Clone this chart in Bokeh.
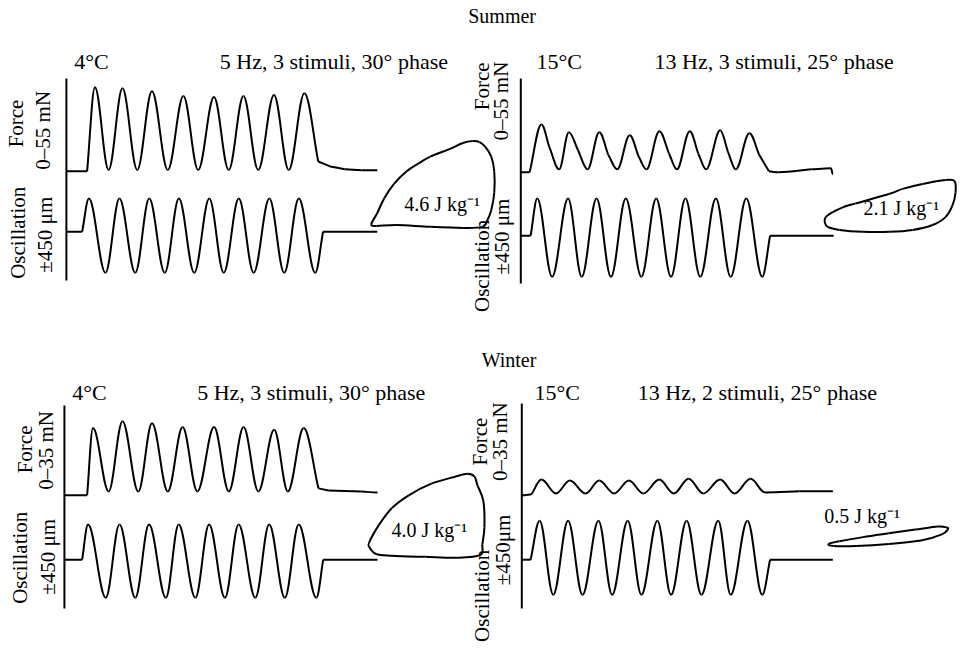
import math
from bokeh.plotting import figure
from bokeh.models import Range1d, ColumnDataSource
from bokeh.core.properties import value
from bokeh.embed import file_html
from bokeh.resources import INLINE

# ---------------- data (time ms, force mN, displacement um) ----------------
# Summer, 4 C, 5 Hz
s4_force_t = [-105, 33, 85, 176, 268, 366, 464, 569, 673, 771, 876, 974, 1072, 1170, 1275, 1373, 1477, 1569, 1647, 1745, 1856, 1961]
s4_force_v = [0, 0, 49.8, 0.8, 49.2, 0.8, 47.5, 0.8, 44.6, 0.8, 44.0, 0.8, 44.6, 0.8, 45.2, 0.8, 46.3, 5.8, 2.9, 1.2, 0.6, 0.6]
s4_osc_t = [-105, 0, 45, 155, 248, 353, 446, 549, 643, 745, 845, 941, 1041, 1140, 1244, 1343, 1440, 1549, 1601, 1961]
s4_osc_v = [0, 0, 403, -497, 403, -497, 403, -497, 403, -497, 403, -497, 403, -497, 403, -497, 403, -497, 0, 0]
s4_loop_d = [-450, -407, -356, -284, -191, -104, -18, 126, 220, 292, 342, 385, 428, 450, 450, 428, 400, 364, 220, -18, -263, -414]
s4_loop_f = [2.2, 8.4, 16.9, 25.3, 32.6, 37.1, 41.0, 45.5, 48.9, 50.0, 49.4, 46.6, 41.0, 32.6, 20.2, 10.1, 4.5, 0.6, 0.0, 0.6, 1.7, 1.1]

# Summer, 15 C, 13 Hz
s15_force_t = [-25, -2.5, 27.7, 47.8, 73, 98, 121, 146, 176, 199, 222, 254, 277, 297, 330, 355, 375, 408, 430, 450, 486, 506, 526, 561, 586, 611, 636, 720, 770, 775]
s15_force_v = [0, 0, 28.1, 14.9, 1.7, 23.5, 13.2, 1.7, 23.5, 10.3, 1.7, 21.8, 9.2, 1.7, 24.1, 10.9, 1.7, 24.1, 10.9, 1.7, 24.6, 12.0, 1.7, 22.9, 10.3, 0.6, 0.0, 1.7, 2.3, -1.1]
s15_osc_t = [-25, 0, 17, 55, 96, 131, 169, 206, 244, 284, 322, 360, 397, 435, 475, 513, 553, 594, 614, 777]
s15_osc_v = [0, 0, 428, -473, 428, -473, 428, -473, 428, -473, 428, -473, 428, -473, 428, -473, 428, -473, 0, 0]
s15_loop_d = [443, 381, 223, 86, -3, -237, -326, -395, -443, -450, -429, -347, -189, -3, 155, 292, 381, 429, 450]
s15_loop_f = [27.0, 27.5, 25.4, 22.8, 20.2, 15.1, 13.0, 10.4, 7.8, 5.2, 2.6, 1.0, 0.0, 0.0, 1.0, 3.6, 7.8, 14.0, 20.8]

# Winter, 4 C, 5 Hz
w4_force_t = [-118, 33, 72, 176, 268, 373, 464, 569, 667, 765, 876, 974, 1072, 1170, 1275, 1366, 1471, 1569, 1634, 1856, 1961]
w4_force_v = [0, 0, 26.2, 1.5, 28.9, 1.5, 28.1, 1.5, 26.6, 1.5, 26.6, 1.5, 26.6, 1.5, 25.5, 1.5, 26.2, 2.7, 1.9, 1.5, 1.1]
w4_osc_t = [-118, 0, 39, 157, 248, 353, 444, 556, 641, 752, 843, 948, 1039, 1150, 1242, 1346, 1438, 1555, 1601, 1961]
w4_osc_v = [0, 0, 432, -468, 432, -468, 432, -468, 432, -468, 432, -468, 432, -468, 432, -468, 432, -468, 0, 0]
w4_loop_d = [-450, -373, -273, -142, 35, 219, 319, 373, 396, 442, 450, 434, 419, 242, -12, -273, -396, -450]
w4_loop_f = [5.4, 11.4, 17.1, 21.5, 25.5, 27.9, 28.9, 27.9, 24.9, 19.5, 10.4, 4.7, 1.0, 0.0, 0.3, 0.7, 1.3, 3.7]

# Winter, 15 C, 13 Hz
w15_force_t = [-23, 2.5, 27.7, 65, 100.6, 141, 176, 214, 252, 289, 330, 367, 405, 443, 486, 523, 564, 601, 689, 775]
w15_force_v = [0, 0.4, 6.0, 0.7, 5.6, 0.7, 5.6, 0.7, 5.6, 0.7, 6.0, 0.7, 6.3, 0.7, 6.0, 0.7, 6.3, 1.1, 1.5, 1.5]
w15_osc_t = [-23, 0, 23, 58, 96, 133, 174, 209, 249, 284, 325, 360, 400, 438, 481, 513, 556, 594, 614, 775]
w15_osc_v = [0, 0, 474, -426, 474, -426, 474, -426, 474, -426, 474, -426, 474, -426, 474, -426, 474, -426, 0, 0]
w15_loop_d = [-450, -413, -242, 4, 257, 406, 450, 443, 376, 205, 4, -190, -368]
w15_loop_f = [0.6, 0.0, 0.0, 0.6, 1.7, 3.4, 4.8, 5.4, 5.7, 4.8, 3.7, 2.6, 1.4]

season_titles = ["Summer", "Winter"]
temp_labels = ["4°C", "15°C", "4°C", "15°C"]
cond_labels = ["5 Hz, 3 stimuli, 30° phase", "13 Hz, 3 stimuli, 25° phase",
               "5 Hz, 3 stimuli, 30° phase", "13 Hz, 2 stimuli, 25° phase"]
force_scales = ["0–55 mN", "0–55 mN", "0–35 mN", "0–35 mN"]
osc_scales = ["±450 μm", "±450 μm", "±450 μm", "±450μm"]
work_labels = ["4.6 J kg⁻¹", "2.1 J kg⁻¹", "4.0 J kg⁻¹", "0.5 J kg⁻¹"]

# ---------------- layout (reference-pixel anchors, scaled onto the canvas) ----------------
W, H = 957, 648          # canvas size
RW, RH = 973, 664        # reference coordinate frame
PANELS = [
    dict(ft=s4_force_t, fv=s4_force_v, ot=s4_osc_t, ov=s4_osc_v, ld=s4_loop_d, lf=s4_loop_f,
         t_map=(0, 83, 1600, 327.8), f_map=(0, 175, 55, 80), o_map=(0, 237, 450, 199),
         lx_map=(-450, 377, 450, 502), ly_map=(0, 233, 50, 144), spine=(67, 80, 287),
         temp=(75, 62), cond=(223, 62), work=(449, 209),
         rot=[(16, 126), (43, 133), (18, 238), (45, 240)]),
    dict(ft=s15_force_t, fv=s15_force_v, ot=s15_osc_t, ov=s15_osc_v, ld=s15_loop_d, lf=s15_loop_f,
         t_map=(0, 539, 615.4, 783), f_map=(0, 176, 55, 80), o_map=(0, 241, 450, 201),
         lx_map=(-450, 838, 450, 971), ly_map=(0, 237, 27.5, 184), spine=(529, 80, 290),
         temp=(545, 62), cond=(665, 62), work=(916, 213),
         rot=[(490, 88), (509, 103), (490, 272), (510, 242)]),
    dict(ft=w4_force_t, fv=w4_force_v, ot=w4_osc_t, ov=w4_osc_v, ld=w4_loop_d, lf=w4_loop_f,
         t_map=(0, 83, 1600, 328), f_map=(0, 507, 35, 415), o_map=(0, 573, 450, 535.5),
         lx_map=(-450, 375, 450, 492), ly_map=(0, 571, 28.9, 485), spine=(65, 415, 623),
         temp=(73, 402), cond=(200, 402), work=(436, 543),
         rot=[(25, 460), (46, 461), (20, 571), (48, 570)]),
    dict(ft=w15_force_t, fv=w15_force_v, ot=w15_osc_t, ov=w15_osc_v, ld=w15_loop_d, lf=w15_loop_f,
         t_map=(0, 539, 615.4, 783), f_map=(0, 507, 35, 413), o_map=(0, 573, 450, 535),
         lx_map=(-450, 842, 450, 963), ly_map=(0, 559, 5.7, 539), spine=(530, 413, 623),
         temp=(543, 402), cond=(648, 402), work=(876, 528),
         rot=[(488, 452), (508, 452), (490, 610), (511, 563)]),
]
TITLE_POS = [(510, 16), (517, 368)]
FONT = value("Liberation Serif")
LW = 2


def lin_range(m, lo_px, hi_px):
    va, pa, vb, pb = m
    k = (vb - va) / (pb - pa)
    return Range1d(start=va + (lo_px - pa) * k, end=va + (hi_px - pa) * k)


def trace_bezier(ts, vs, k=0.36):
    n = len(ts)

    def ext(i):
        if i == 0 or i == n - 1:
            return True
        return (vs[i] - vs[i - 1]) * (vs[i + 1] - vs[i]) < 0

    d = dict(x0=[], y0=[], x1=[], y1=[], cx0=[], cy0=[], cx1=[], cy1=[])
    for i in range(n - 1):
        dx = ts[i + 1] - ts[i]
        dy = vs[i + 1] - vs[i]
        s = dy / dx
        s0 = 0 if ext(i) else s
        s1 = 0 if ext(i + 1) else s
        d["x0"].append(ts[i]); d["y0"].append(vs[i])
        d["x1"].append(ts[i + 1]); d["y1"].append(vs[i + 1])
        d["cx0"].append(ts[i] + k * dx); d["cy0"].append(vs[i] + k * dx * s0)
        d["cx1"].append(ts[i + 1] - k * dx); d["cy1"].append(vs[i + 1] - k * dx * s1)
    return ColumnDataSource(d)


def loop_bezier(xs, ys):
    n = len(xs)
    d = dict(x0=[], y0=[], x1=[], y1=[], cx0=[], cy0=[], cx1=[], cy1=[])
    for i in range(n):
        a, b, c, e = (i - 1) % n, i, (i + 1) % n, (i + 2) % n
        d["x0"].append(xs[b]); d["y0"].append(ys[b])
        d["x1"].append(xs[c]); d["y1"].append(ys[c])
        d["cx0"].append(xs[b] + (xs[c] - xs[a]) / 6); d["cy0"].append(ys[b] + (ys[c] - ys[a]) / 6)
        d["cx1"].append(xs[c] - (xs[e] - xs[b]) / 6); d["cy1"].append(ys[c] - (ys[e] - ys[b]) / 6)
    return ColumnDataSource(d)


p = figure(width=W, height=H, output_backend="svg", toolbar_location=None,
           x_range=Range1d(0, RW), y_range=Range1d(RH, 0),
           x_axis_location=None, y_axis_location=None, min_border=0,
           background_fill_color="white", border_fill_color="white")
p.grid.visible = False
p.outline_line_color = None

bz = dict(x0="x0", y0="y0", x1="x1", y1="y1", cx0="cx0", cy0="cy0", cx1="cx1", cy1="cy1")

for i, P in enumerate(PANELS):
    tn, fn, on, lxn, lyn = f"t{i}", f"f{i}", f"o{i}", f"lx{i}", f"ly{i}"
    p.extra_x_ranges[tn] = lin_range(P["t_map"], 0, RW)
    p.extra_x_ranges[lxn] = lin_range(P["lx_map"], 0, RW)
    p.extra_y_ranges[fn] = lin_range(P["f_map"], RH, 0)
    p.extra_y_ranges[on] = lin_range(P["o_map"], RH, 0)
    p.extra_y_ranges[lyn] = lin_range(P["ly_map"], RH, 0)

    sx, sy0, sy1 = P["spine"]
    p.segment(x0=[sx], y0=[sy0], x1=[sx], y1=[sy1], line_color="black", line_width=LW)

    p.bezier(source=trace_bezier(P["ft"], P["fv"]), line_color="black", line_width=LW,
             x_range_name=tn, y_range_name=fn, **bz)
    p.bezier(source=trace_bezier(P["ot"], P["ov"]), line_color="black", line_width=LW,
             x_range_name=tn, y_range_name=on, **bz)
    p.bezier(source=loop_bezier(P["ld"], P["lf"]), line_color="black", line_width=LW,
             x_range_name=lxn, y_range_name=lyn, **bz)

    p.text(x=[P["temp"][0], P["cond"][0]], y=[P["temp"][1], P["cond"][1]],
           text=[temp_labels[i], cond_labels[i]], text_font=FONT, text_font_size="22px",
           text_align="left", text_baseline="middle", text_color="black")
    p.text(x=[P["work"][0]], y=[P["work"][1]], text=[work_labels[i]], text_font=FONT,
           text_font_size="20px", text_align="center", text_baseline="middle", text_color="black")
    r = P["rot"]
    p.text(x=[q[0] for q in r], y=[q[1] for q in r],
           text=["Force", force_scales[i], "Oscillation", osc_scales[i]],
           angle=math.pi / 2, text_font=FONT, text_font_size="21px",
           text_align="center", text_baseline="middle", text_color="black")

p.text(x=[q[0] for q in TITLE_POS], y=[q[1] for q in TITLE_POS], text=season_titles,
       text_font=FONT, text_font_size="20px", text_align="center", text_baseline="middle",
       text_color="black")

open("out.html", "w").write(file_html(p, INLINE))
